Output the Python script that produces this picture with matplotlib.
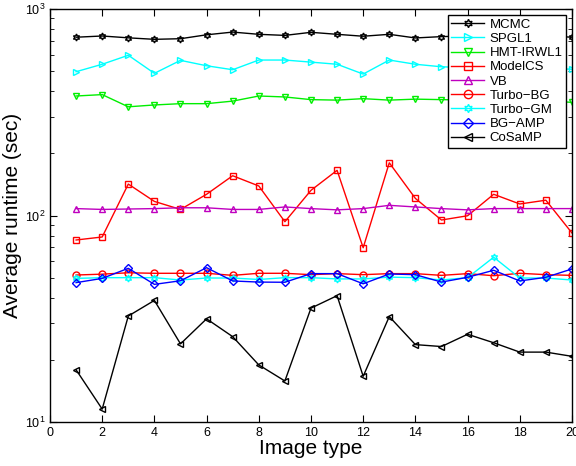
import numpy as np
import matplotlib
matplotlib.use('Agg')
from matplotlib import pyplot as plt

plt.rcParams['font.family'] = ['Liberation Sans', 'DejaVu Sans']
plt.rcParams['mathtext.fontset'] = 'custom'
plt.rcParams['mathtext.rm'] = 'Liberation Sans'

image_type = np.arange(1, 21)

mcmc = [730, 740, 725, 713, 718, 750, 773, 754, 745, 771,
        754, 738, 754, 724, 735, 740, 745, 738, 742, 730]
spgl1 = [497, 540, 597, 488, 564, 531, 508, 566, 566, 553,
         540, 484, 566, 540, 525, 520, 530, 510, 515, 511]
hmt_irwl1 = [379, 385, 336, 343, 348, 348, 358, 379, 375, 364,
             362, 368, 362, 366, 364, 362, 360, 362, 360, 353]
modelcs = [76.1, 78.7, 142, 117, 107, 126.7, 155.8, 139, 93.3, 132.4,
           165.5, 69.8, 180, 121, 95.1, 99.7, 126.7, 113.7, 118.6, 82.3]
vb = [108, 107, 107.5, 108, 109, 109, 107, 107, 110, 108,
      106.5, 108, 112, 110, 108, 106.5, 108, 108, 108, 108]
turbo_bg = [51.5, 52.0, 52.8, 52.5, 52.5, 52.5, 51.3, 52.5, 52.5, 51.7,
            52.3, 51.7, 52.3, 52.3, 51.3, 52.3, 51.1, 52.5, 51.7, 51.3]
turbo_gm = [49.6, 50, 50, 50, 48.7, 49.8, 49.8, 49, 50, 50,
            49.3, 49.3, 50.3, 50, 48.7, 50, 62.8, 49.8, 49.8, 48.7]
bg_amp = [47.3, 49.6, 55.5, 46.4, 48.3, 55.9, 48.2, 47.6, 47.5, 52.3,
          52.3, 46.7, 52.1, 51.7, 47.6, 50.2, 54.3, 48.2, 50.2, 55.1]
cosamp = [17.9, 11.55, 32.6, 38.8, 23.9, 31.6, 25.9, 18.9, 15.8, 35.6,
          40.9, 16.65, 32.4, 23.7, 23.2, 26.6, 24.2, 21.8, 21.8, 20.8]

series = [
    ('MCMC', mcmc, 'k', (6, 1, 0)),
    ('SPGL1', spgl1, '#00ffff', '>'),
    ('HMT-IRWL1', hmt_irwl1, '#00ee00', 'v'),
    ('ModelCS', modelcs, 'r', 's'),
    ('VB', vb, 'm', '^'),
    ('Turbo\u2212BG', turbo_bg, 'r', 'o'),
    ('Turbo\u2212GM', turbo_gm, '#00ffff', (6, 1, 0)),
    ('BG\u2212AMP', bg_amp, 'b', 'D'),
    ('CoSaMP', cosamp, 'k', '<'),
]

fig = plt.figure(figsize=(5.76, 4.66), dpi=100)
ax = fig.add_axes([0.0868, 0.0944, 0.9062, 0.8863])

for name, vals, col, mk in series:
    ms = 5 if mk != 'D' else 4.5
    ax.plot(image_type, vals, color=col, marker=mk, markersize=ms,
            markerfacecolor='none', markeredgecolor=col, linewidth=1,
            markeredgewidth=1, label=name)

ax.set_yscale('log')
ax.set_ylim(10, 1000)
ax.set_xlim(0, 20)
ax.set_xticks(np.arange(0, 21, 2))
ax.tick_params(which='both', direction='in', top=True, right=True, labelsize=9)
ax.tick_params(which='major', length=5)
ax.tick_params(which='minor', length=3)
for s in ax.spines.values():
    s.set_linewidth(1)

ax.set_xlabel('Image type', fontsize=15, labelpad=0)
ax.set_ylabel('Average runtime (sec)', fontsize=15, labelpad=2)

leg = ax.legend(loc='upper right', bbox_to_anchor=(0.9885, 0.985), fontsize=9.5,
                fancybox=False, edgecolor='k', framealpha=1, labelspacing=0.15,
                handlelength=2.5, borderpad=0.25, handletextpad=0.4, borderaxespad=0,
                markerscale=1.2)
leg.get_frame().set_linewidth(1)

plt.savefig('out.png', dpi=100)
